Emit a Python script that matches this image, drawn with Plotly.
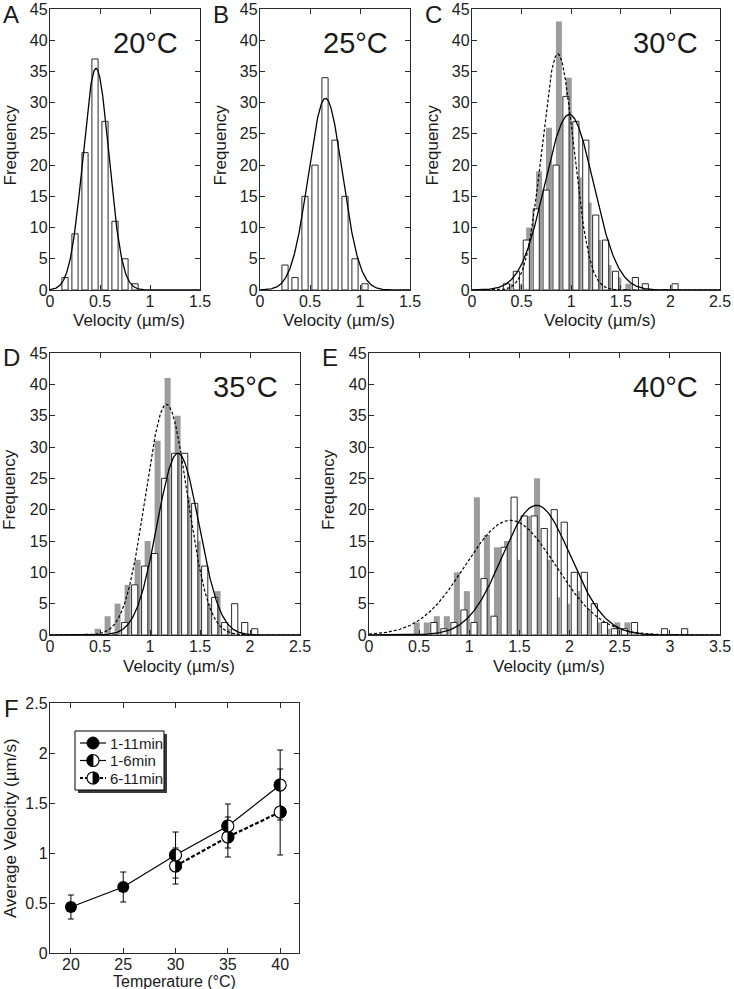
import numpy as np
import plotly.graph_objects as go

W, H = 734, 989
FONT = "Liberation Sans, Arial, sans-serif"

# ---------------- data ----------------
a_bins = [0.15, 0.25, 0.35, 0.45, 0.55, 0.65, 0.75, 0.85]
a_1_11 = [2, 9, 22, 37, 27, 11, 5, 1]

b_bins = [0.25, 0.35, 0.45, 0.55, 0.65, 0.75, 0.85, 0.95, 1.05]
b_1_11 = [4, 2, 15, 20, 34, 24, 15, 5, 1]

c_bins = [0.35, 0.45, 0.55, 0.65, 0.75, 0.85, 0.95, 1.05, 1.15, 1.25, 1.35, 1.45,
          1.55, 1.65, 1.75, 1.85, 1.95, 2.05]
c_1_6 = [1, 3, 8, 13, 16, 20, 31, 27, 24, 12, 8, 3, 0, 2, 1, 0, 0, 1]
c_6_11 = [1, 1, 10, 19, 26, 43, 34, 18, 14, 8, 4, 2, 1, 0, 0, 0, 0, 0]

d_bins = [0.45, 0.55, 0.65, 0.75, 0.85, 0.95, 1.05, 1.15, 1.25, 1.35, 1.45, 1.55,
          1.65, 1.75, 1.85, 1.95, 2.05]
d_1_6 = [0, 0, 0, 2, 8, 11, 13, 25, 29, 29, 21, 11, 6, 2, 5, 2, 1]
d_6_11 = [1, 3, 5, 8, 12, 15, 31, 41, 35, 22, 15, 5, 7, 1, 0, 0, 0]

e_bins = [0.45, 0.55, 0.65, 0.75, 0.85, 0.95, 1.05, 1.15, 1.25, 1.35, 1.45, 1.55,
          1.65, 1.75, 1.85, 1.95, 2.05, 2.15, 2.25, 2.35, 2.45, 2.55, 2.65, 2.75,
          2.85, 2.95, 3.05, 3.15]
e_1_6 = [0, 0, 2, 1, 2, 4, 2, 9, 3, 14, 22, 19, 19, 17, 20, 18, 10, 10, 5, 2, 1, 1,
         2, 0, 0, 1, 0, 1]
e_6_11 = [2, 2, 3, 3, 10, 7, 22, 16, 14, 15, 12, 19, 25, 12, 6, 5, 7, 4, 2, 1, 2, 2,
          0, 0, 0, 0, 0, 0]

# Gaussian fit parameters: [amplitude, mean, sd]
a_fit = [35.5, 0.46, 0.13]
b_fit = [30.7, 0.655, 0.17]
c_fit_1_6 = [28.1, 0.98, 0.245]
c_fit_6_11 = [37.8, 0.865, 0.16]
d_fit_1_6 = [29.0, 1.28, 0.21]
d_fit_6_11 = [36.8, 1.165, 0.21]
e_fit_1_6 = [20.7, 1.67, 0.34]
e_fit_6_11 = [18.3, 1.41, 0.45]

# Panel F
f_temp_all = [20, 25]
f_v_all = [0.46, 0.66]
f_sd_all = [0.12, 0.15]
f_temp_split = [30, 35, 40]
f_v_1_6 = [0.98, 1.27, 1.68]
f_sd_1_6 = [0.23, 0.22, 0.35]
f_v_6_11 = [0.87, 1.16, 1.41]
f_sd_6_11 = [0.18, 0.20, 0.43]
f_xticks = [20, 25, 30, 35, 40]

temps_labels = ["20°C", "25°C", "30°C", "35°C", "40°C"]
legend_labels = ["1-11min", "1-6min", "6-11min"]

# ---------------- layout geometry (pixels) ----------------
panels = {
    "A": dict(x=(50, 200), y=(9, 290), xr=[0, 1.5]),
    "B": dict(x=(260, 410), y=(9, 290), xr=[0, 1.5]),
    "C": dict(x=(472, 720), y=(9, 290), xr=[0, 2.5]),
    "D": dict(x=(50, 300), y=(353, 635), xr=[0, 2.5]),
    "E": dict(x=(369, 720), y=(353, 635), xr=[0, 3.5]),
    "F": dict(x=(50, 299), y=(703, 953), xr=[18, 41.8]),
}
order = ["A", "B", "C", "D", "E", "F"]


def px(x):
    return x / W


def py(y):
    return 1 - y / H


fig = go.Figure()

GRAY = "#9c9c9c"
INK = "#2a2a2a"


def axref(i):
    return ("x" if i == 0 else f"x{i+1}", "y" if i == 0 else f"y{i+1}")


def gauss(p, xmax):
    xs = np.linspace(0, xmax, 500)
    return xs, p[0] * np.exp(-(xs - p[1]) ** 2 / (2 * p[2] ** 2))


def add_hist(i, bins, white, gray=None, fit_w=None, fit_g=None, xmax=1.5, centered=True):
    xa, ya = axref(i)
    if gray is not None:
        fig.add_trace(go.Bar(x=bins, y=gray, width=0.06, offset=-0.004,
                             marker=dict(color=GRAY, line=dict(width=0)),
                             xaxis=xa, yaxis=ya, showlegend=False))
    fig.add_trace(go.Bar(x=bins, y=white, width=0.062,
                         offset=-0.031 if centered else -0.034,
                         marker=dict(color="white", line=dict(width=1, color=INK)),
                         xaxis=xa, yaxis=ya, showlegend=False))
    if fit_g is not None:
        xs, ys = gauss(fit_g, xmax)
        fig.add_trace(go.Scatter(x=xs, y=ys, mode="lines",
                                 line=dict(color="black", width=1.2, dash="3px,2px"),
                                 xaxis=xa, yaxis=ya, showlegend=False))
    xs, ys = gauss(fit_w, xmax)
    fig.add_trace(go.Scatter(x=xs, y=ys, mode="lines",
                             line=dict(color="black", width=1.3),
                             xaxis=xa, yaxis=ya, showlegend=False))


add_hist(0, a_bins, a_1_11, fit_w=a_fit, xmax=1.5)
add_hist(1, b_bins, b_1_11, fit_w=b_fit, xmax=1.5)
add_hist(2, c_bins, c_1_6, c_6_11, c_fit_1_6, c_fit_6_11, xmax=2.5, centered=False)
add_hist(3, d_bins, d_1_6, d_6_11, d_fit_1_6, d_fit_6_11, xmax=2.5, centered=False)
add_hist(4, e_bins, e_1_6, e_6_11, e_fit_1_6, e_fit_6_11, xmax=3.5, centered=False)

# ---------------- panel F ----------------
xa, ya = "x6", "y6"
fig.add_trace(go.Scatter(x=f_temp_all + f_temp_split, y=f_v_all + f_v_1_6, mode="lines",
                         line=dict(color="black", width=1.2), xaxis=xa, yaxis=ya,
                         showlegend=False))
fig.add_trace(go.Scatter(x=f_temp_split, y=f_v_6_11, mode="lines",
                         line=dict(color="black", width=2.2, dash="4px,2px"),
                         xaxis=xa, yaxis=ya, showlegend=False))
errstyle = dict(type="data", visible=True, color="black", thickness=1, width=3)
fig.add_trace(go.Scatter(x=f_temp_all, y=f_v_all, mode="markers",
                         marker=dict(symbol="circle", size=12, color="black"),
                         error_y=dict(array=f_sd_all, **errstyle),
                         xaxis=xa, yaxis=ya, showlegend=False))
for vals, sds in [(f_v_6_11, f_sd_6_11), (f_v_1_6, f_sd_1_6)]:
    fig.add_trace(go.Scatter(x=f_temp_split, y=vals, mode="markers",
                             marker=dict(symbol="circle", size=12, color="white"),
                             error_y=dict(array=sds, **errstyle),
                             xaxis=xa, yaxis=ya, showlegend=False))

shapes = []
R = 6.0
theta = np.linspace(-np.pi / 2, np.pi / 2, 24)


def half_path(side):
    # side = -1 -> left half filled, +1 -> right half filled (pixel offsets)
    pts = [(side * R * np.cos(t), R * np.sin(t)) for t in theta]
    return "M " + " L ".join(f"{x:.2f},{y:.2f}" for x, y in pts) + " Z"


def half_marker(xref, yref, xv, yv, side):
    shapes.append(dict(type="circle", xref=xref, yref=yref, xsizemode="pixel",
                       ysizemode="pixel", xanchor=xv, yanchor=yv, x0=-R, x1=R, y0=-R, y1=R,
                       fillcolor="white", line=dict(color="black", width=1.1)))
    shapes.append(dict(type="path", xref=xref, yref=yref, xsizemode="pixel",
                       ysizemode="pixel", xanchor=xv, yanchor=yv, path=half_path(side),
                       fillcolor="black", line=dict(color="black", width=0.8)))


for t, v in zip(f_temp_split, f_v_6_11):
    half_marker("x6", "y6", t, v, +1)
for t, v in zip(f_temp_split, f_v_1_6):
    half_marker("x6", "y6", t, v, -1)

# ---------------- axes ----------------
layout = dict(width=W, height=H, margin=dict(l=0, r=0, t=0, b=0, autoexpand=False),
              paper_bgcolor="white", plot_bgcolor="white", barmode="overlay",
              showlegend=False, font=dict(family=FONT, color="#222"))
common = dict(showline=True, linecolor=INK, linewidth=1.2, mirror="ticks",
              ticks="inside", ticklen=5, tickwidth=1, tickcolor=INK,
              showgrid=False, zeroline=False, fixedrange=True, automargin=False,
              tickfont=dict(family=FONT, size=16, color="#222"))
for i, k in enumerate(order):
    p = panels[k]
    xn = "xaxis" if i == 0 else f"xaxis{i+1}"
    yn = "yaxis" if i == 0 else f"yaxis{i+1}"
    xanchor = "y" if i == 0 else f"y{i+1}"
    yanchor = "x" if i == 0 else f"x{i+1}"
    xd = [px(p["x"][0]), px(p["x"][1])]
    yd = [py(p["y"][1]), py(p["y"][0])]
    if k == "F":
        layout[xn] = dict(domain=xd, range=p["xr"], tickvals=f_xticks, anchor=xanchor,
                          ticklabelstandoff=-3, **common)
        layout[yn] = dict(domain=yd, range=[0, 2.5], dtick=0.5, tick0=0, anchor=yanchor,
                          ticklabelstandoff=-2, **common)
    else:
        layout[xn] = dict(domain=xd, range=p["xr"], dtick=0.5, tick0=0, anchor=xanchor,
                          ticklabelstandoff=-3, **common)
        layout[yn] = dict(domain=yd, range=[0, 45], dtick=5, tick0=0, anchor=yanchor,
                          ticklabelstandoff=-2, **common)

annotations = []


def ann(text, x, y, size, xanchor="center", yanchor="middle", angle=0, family=FONT):
    annotations.append(dict(text=text, x=px(x), y=py(y), xref="paper", yref="paper",
                            showarrow=False, xanchor=xanchor, yanchor=yanchor,
                            textangle=angle, font=dict(family=family, size=size, color="#1a1a1a")))


for k in order:
    p = panels[k]
    cx = (p["x"][0] + p["x"][1]) / 2
    cy = (p["y"][0] + p["y"][1]) / 2
    ann(k, p["x"][0] - 39, p["y"][0] + 5, 24)
    if k != "F":
        ann("Velocity (µm/s)", cx + 4, p["y"][1] + 31, 17)
        ann("Frequency", p["x"][0] - 40, cy - 4, 17, angle=-90)
for k, t in zip(order[:5], temps_labels):
    p = panels[k]
    ann(t, p["x"][1] - 20, p["y"][0] + 34, 29, xanchor="right")

pf = panels["F"]
ann("Temperature (°C)", (pf["x"][0] + pf["x"][1]) / 2, pf["y"][1] + 28, 16)
ann("Average Velocity (µm/s)", pf["x"][0] - 40, (pf["y"][0] + pf["y"][1]) / 2, 17, angle=-90)

# legend box for F
lx0, lx1, ly0, ly1 = 75, 164, 731, 790
shapes.insert(0, dict(type="rect", xref="paper", yref="paper", x0=px(lx0 + 3), x1=px(lx1 + 3),
                      y0=py(ly1 + 3), y1=py(ly0 + 3), fillcolor="#3a3a3a", line=dict(width=0)))
shapes.insert(1, dict(type="rect", xref="paper", yref="paper", x0=px(lx0), x1=px(lx1),
                      y0=py(ly1), y1=py(ly0), fillcolor="white", line=dict(width=1, color="black")))
rows = [743, 760.5, 778]
sides = [0, -1, +1]
dashes = ["solid", "solid", "3px,2px"]
widths = [1.2, 1.2, 2.0]
for r, s, d, wdt, lab in zip(rows, sides, dashes, widths, legend_labels):
    shapes.append(dict(type="line", xref="paper", yref="paper", x0=px(80), x1=px(106),
                       y0=py(r), y1=py(r), line=dict(color="black", width=wdt, dash=d)))
    if s == 0:
        shapes.append(dict(type="circle", xref="paper", yref="paper", xsizemode="pixel",
                           ysizemode="pixel", xanchor=px(93), yanchor=py(r),
                           x0=-R, x1=R, y0=-R, y1=R, fillcolor="black",
                           line=dict(color="black", width=1)))
    else:
        half_marker("paper", "paper", px(93), py(r), s)
    ann(lab, 108, r, 15, xanchor="left")

layout["annotations"] = annotations
layout["shapes"] = shapes
fig.update_layout(**layout)
fig.write_html("out.html", config={"displayModeBar": False, "staticPlot": True},
               post_script="document.body.style.margin='0';document.body.style.overflow='hidden';")
